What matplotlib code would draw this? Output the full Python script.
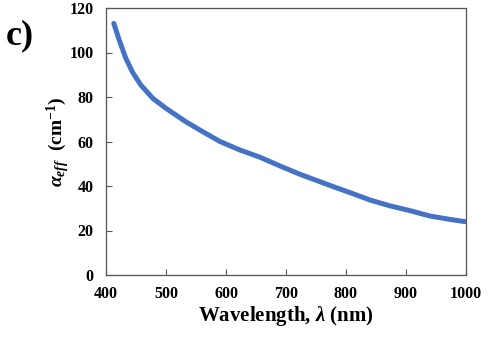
import matplotlib
matplotlib.use("Agg")
import matplotlib.pyplot as plt

wavelength = [413, 422, 433, 444.5, 458, 478, 500, 533, 560, 590, 623, 657, 690, 723, 757, 784, 807, 840, 873, 907, 940, 973, 998]
alpha_eff = [113.1, 105.6, 97.4, 91.0, 85.4, 79.4, 74.9, 68.9, 64.6, 60.0, 56.2, 52.9, 49.0, 45.3, 41.9, 39.2, 37.0, 33.7, 31.1, 28.9, 26.5, 25.0, 24.0]
x_ticks = [400, 500, 600, 700, 800, 900, 1000]
y_ticks = [0, 20, 40, 60, 80, 100, 120]

plt.rcParams['font.family'] = ['Liberation Serif', 'DejaVu Serif']
plt.rcParams['mathtext.fontset'] = 'custom'
plt.rcParams['mathtext.rm'] = 'Liberation Serif:bold'
plt.rcParams['mathtext.it'] = 'Liberation Serif:italic:bold'
plt.rcParams['mathtext.bf'] = 'Liberation Serif:bold'

fig = plt.figure(figsize=(5.04, 3.37), dpi=100)
ax = fig.add_axes([106/504, 62/337, 360/504, 267/337])
ax.plot(wavelength, alpha_eff, color='#4472C4', lw=3.6, solid_capstyle='round')
ax.set_xlim(400, 1000)
ax.set_ylim(0, 120)
ax.set_xticks(x_ticks)
ax.set_yticks(y_ticks)
ax.tick_params(direction='in', length=4, width=0.8, color='#555555', labelsize=11.5)
ax.tick_params(axis='y', pad=9)
ax.tick_params(axis='x', pad=8)
for lab in ax.get_xticklabels() + ax.get_yticklabels():
    lab.set_fontweight('bold')
for s in ax.spines.values():
    s.set_color('#555555')
    s.set_linewidth(0.9)
ax.set_xlabel(r'Wavelength, $\lambda$ (nm)', fontsize=15, fontweight='bold', labelpad=1)
fig.text(58/504, 1 - 142/337, r'$\alpha_{eff}$  (cm$^{\mathregular{-1}}$)', rotation=90,
         ha='center', va='center', fontsize=14, fontweight='bold')
fig.text(20/504, 1 - 36/337, 'c)', fontsize=26, fontweight='bold', ha='center', va='center')
fig.savefig('out.png', dpi=100)
